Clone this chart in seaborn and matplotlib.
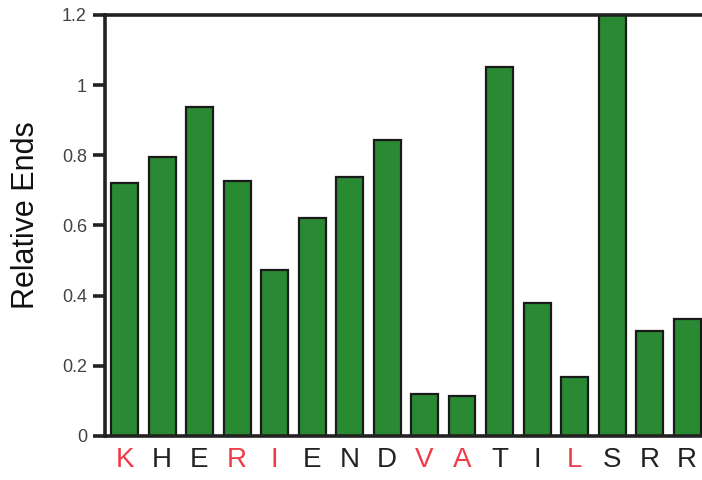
import matplotlib
matplotlib.use("Agg")
import matplotlib.pyplot as plt
import seaborn as sns
import pandas as pd

residues = ["K", "H", "E", "R", "I", "E", "N", "D", "V", "A", "T", "I", "L", "S", "R", "R"]
relative_ends = [0.721, 0.795, 0.938, 0.727, 0.473, 0.621, 0.738, 0.844,
                 0.120, 0.114, 1.052, 0.379, 0.168, 1.20, 0.299, 0.333]
highlighted = [True, False, False, True, True, False, False, False,
               True, True, False, False, True, False, False, False]
y_ticks = [0, 0.2, 0.4, 0.6, 0.8, 1.0, 1.2]
y_tick_labels = ["0", "0.2", "0.4", "0.6", "0.8", "1", "1.2"]

sns.set_style("white")
plt.rcParams["font.family"] = ["Liberation Sans", "DejaVu Sans"]

df = pd.DataFrame({"pos": list(range(len(residues))), "value": relative_ends})

fig = plt.figure(figsize=(7.02, 4.8), dpi=100)
ax = fig.add_axes([105 / 702, 44 / 480, 597 / 702, 421 / 480])

sns.barplot(data=df, x="pos", y="value", ax=ax, color="#2a8a34",
            saturation=1, width=0.72, edgecolor="#1a1a1a", linewidth=1.6)
for p in ax.patches:
    p.set_facecolor("#2a8a34")

ax.set_xlim(-0.52, 15.4)
ax.set_ylim(0, 1.2)
ax.set_yticks(y_ticks)
ax.set_yticklabels(y_tick_labels, fontsize=13, color="#444444")
ax.set_xticks(range(len(residues)))
ax.set_xticklabels(residues, fontsize=20)
for lbl, hi in zip(ax.get_xticklabels(), highlighted):
    lbl.set_color("#f03a46" if hi else "#222222")

ax.tick_params(axis="y", direction="out", length=9, width=2.6, color="#222222",
               pad=4, left=True)
ax.tick_params(axis="x", length=0, pad=8)

for side in ["left", "bottom", "top"]:
    ax.spines[side].set_visible(True)
    ax.spines[side].set_linewidth(2.6)
    ax.spines[side].set_color("#222222")
ax.spines["right"].set_visible(False)

ax.set_xlabel("")
ax.set_ylabel("Relative Ends", fontsize=22, color="#111111")
ax.yaxis.set_label_coords(-0.107, 0.525)

fig.savefig("out.png", dpi=100)
